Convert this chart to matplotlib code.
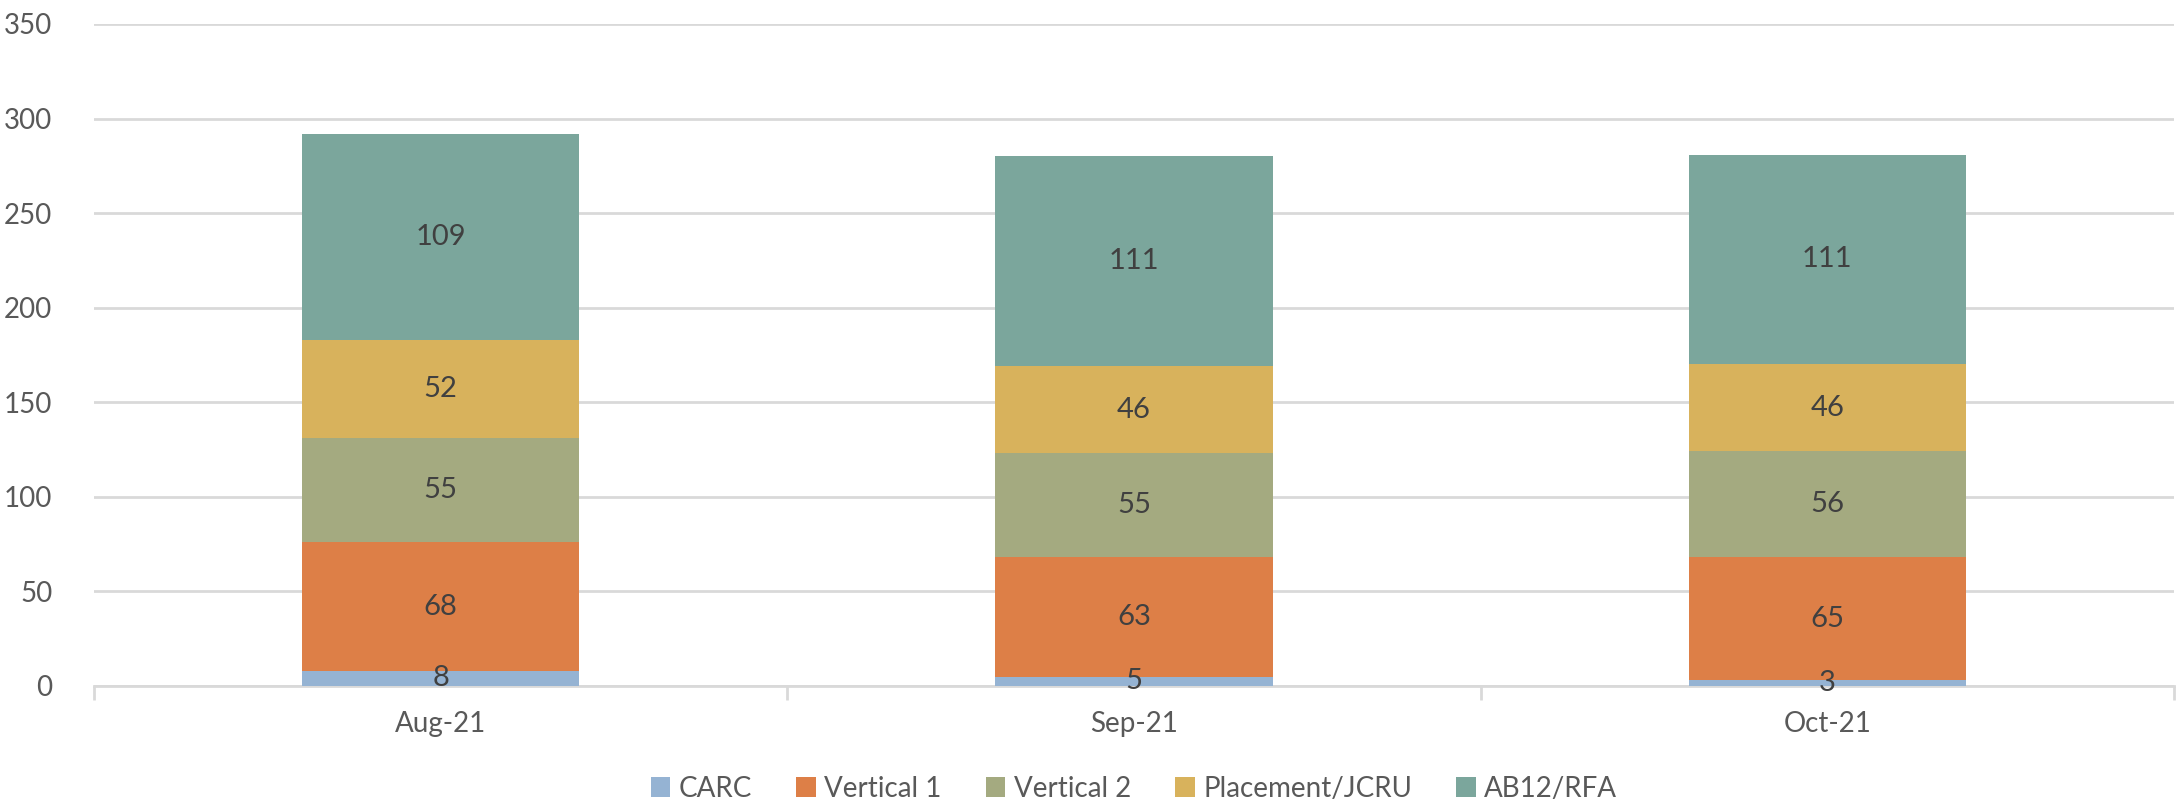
import matplotlib.pyplot as plt
import numpy as np

months = ["Aug-21", "Sep-21", "Oct-21"]
series = ["CARC", "Vertical 1", "Vertical 2", "Placement/JCRU", "AB12/RFA"]
carc = [8, 5, 3]
vertical1 = [68, 63, 65]
vertical2 = [55, 55, 56]
placement = [52, 46, 46]
ab12 = [109, 111, 111]
colors = ["#95B3D3", "#DD7F47", "#A4AA80", "#D8B25C", "#7BA69C"]

plt.rcParams['font.family'] = ['Lato', 'DejaVu Sans']

fig = plt.figure(figsize=(21.78, 8.08), dpi=100)
ax = fig.add_axes([94/2178, 1-686/808, (2174-94)/2178, (686-24)/808])

x = np.arange(len(months))
bottom = np.zeros(len(months))
for name, vals, c in zip(series, [carc, vertical1, vertical2, placement, ab12], colors):
    bars = ax.bar(x, vals, 0.4, bottom=bottom, color=c, label=name, zorder=3)
    labs = ax.bar_label(bars, label_type="center", fontsize=21, color="#404040")
    for t in labs:
        t.set_zorder(10)
        t.set_clip_on(False)
    bottom += np.array(vals)

ax.set_ylim(0, 350)
ax.set_xlim(-0.5, 2.5)
ax.set_yticks(range(0, 351, 50))
ax.yaxis.grid(True, color="#d9d9d9", linewidth=2, zorder=0)
ax.tick_params(axis="y", length=0, labelsize=20, labelcolor="#595959", pad=30)

ax.set_xticks(x)
ax.set_xticklabels(months)
ax.set_xticks([-0.5, 0.5, 1.5, 2.5], minor=True)
ax.tick_params(axis="x", which="major", length=0, labelsize=20, labelcolor="#595959", pad=18)
ax.tick_params(axis="x", which="minor", length=10, width=2, color="#d9d9d9")

for s in ["top", "right", "left"]:
    ax.spines[s].set_visible(False)
ax.spines["bottom"].set_color("#d9d9d9")
ax.spines["bottom"].set_linewidth(2)
ax.spines["bottom"].set_zorder(2)

ax.legend(loc="center", bbox_to_anchor=(0.5, -0.155), ncol=5, frameon=False,
          fontsize=20, labelcolor="#595959", handlelength=0.7, handleheight=0.7,
          handletextpad=0.3, columnspacing=1.6)

fig.savefig("out.png", dpi=100)
